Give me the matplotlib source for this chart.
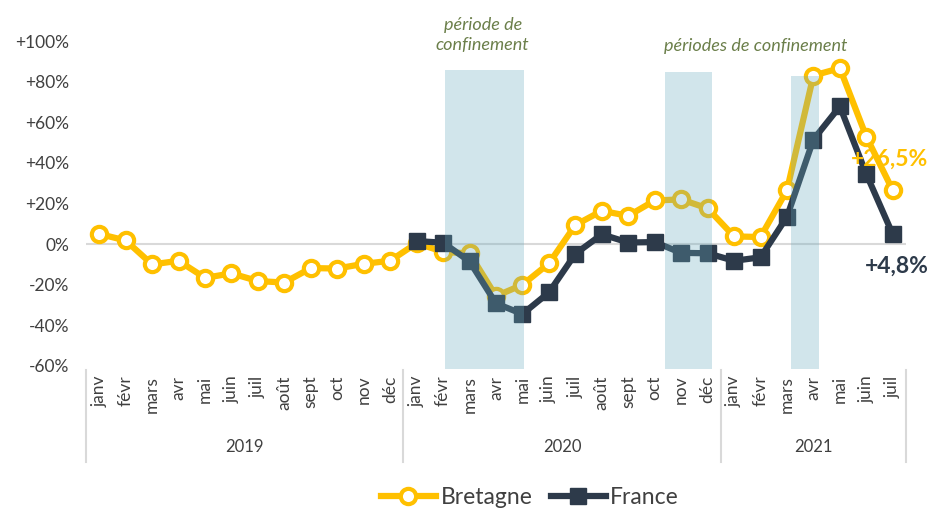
import matplotlib
matplotlib.use("Agg")
import matplotlib.pyplot as plt
from matplotlib.lines import Line2D

plt.rcParams['font.family'] = ['Lato', 'DejaVu Sans']

months = ["janv", "févr", "mars", "avr", "mai", "juin", "juil", "août", "sept", "oct", "nov", "déc"]
years = ["2019", "2020", "2021"]
month_labels = months + months + months[:7]

bretagne = [5, 1.8, -10, -8.2, -16.6, -14.4, -18.2, -18.9, -11.8, -12, -9.7, -8.2,
            0.5, -3.8, -4.6, -25.6, -20, -9.5, 9.4, 16.4, 13.9, 21.5, 22, 17.6,
            3.8, 3.5, 26.5, 83, 86.6, 52.9, 26.5]
france = [None] * 12 + [1.5, 0.7, -8.5, -29.2, -34.4, -23.8, -4.8, 4.8, 0.8, 1.0, -4.3, -4.5,
                        -8.2, -6.5, 13.4, 51.5, 67.8, 34.5, 4.8]
# lockdown bands (category index positions)
band_starts = [13.07, 21.38, 26.14]
band_ends = [16.06, 23.15, 27.2]
band_tops = [85.9, 84.9, 82.9]

YELLOW = "#FFC000"
NAVY = "#2D3A4A"
GREY = "#404040"

fig = plt.figure(figsize=(9.44, 5.12), dpi=100)
ax = fig.add_axes([86 / 944, 1 - 366 / 512, (906 - 86) / 944, (366 - 41) / 512])

x = list(range(len(bretagne)))
ax.axhline(0, color="#D9D9D9", lw=1.5, zorder=1)
ax.plot(x, bretagne, color=YELLOW, lw=4.5, marker="o", ms=11, mfc="white",
        mec=YELLOW, mew=3, zorder=3, label="Bretagne")
xf = [i for i, v in enumerate(france) if v is not None]
yf = [v for v in france if v is not None]
ax.plot(xf, yf, color=NAVY, lw=4.5, marker="s", ms=12, mfc=NAVY, mec=NAVY,
        zorder=4, label="France")

for s, e, t in zip(band_starts, band_ends, band_tops):
    ax.fill_between([s, e], [-61.5, -61.5], [t, t], color="#67AABE", alpha=0.3,
                    lw=0, zorder=5, clip_on=False)

ax.set_xlim(-0.5, 30.5)
ax.set_ylim(-60, 100)
ax.set_yticks(range(-60, 101, 20))
ax.set_yticklabels([("+" if v > 0 else "") + f"{v}%" for v in range(-60, 101, 20)],
                   fontsize=12.5, color=GREY)
ax.set_xticks(x)
ax.set_xticklabels(month_labels, rotation=90, fontsize=12.5, color=GREY, va="top")
ax.tick_params(axis="both", length=0)
ax.tick_params(axis="x", pad=7)
ax.tick_params(axis="y", pad=12)
for sp in ax.spines.values():
    sp.set_visible(False)

# year separators and labels
trans = ax.get_xaxis_transform()
for xs in [-0.5, 11.5, 23.5, 30.5]:
    ax.plot([xs, xs], [-0.012, -0.295], color="#D9D9D9", lw=1.5, transform=trans, clip_on=False)
for yr, xc in zip(years, [5.5, 17.5, 27]):
    ax.text(xc, -0.25, yr, transform=trans, ha="center", va="center", fontsize=12,
            color=GREY)

# annotations
ax.text(14.5, 103, "période de\nconfinement", ha="center", va="center", fontsize=13,
        style="italic", color="#6B7F4A", linespacing=1.25, clip_on=False)
ax.text(24.8, 97.5, "périodes de confinement", ha="center", va="center", fontsize=13,
        style="italic", color="#6B7F4A")
ax.text(31.35, 42, "+26,5%", ha="right", va="center", fontsize=16.5, fontweight="bold",
        color=YELLOW, zorder=6, clip_on=False)
ax.text(31.35, -11, "+4,8%", ha="right", va="center", fontsize=16.5, fontweight="bold",
        color=NAVY, zorder=6, clip_on=False)

handles = [Line2D([], [], color=YELLOW, lw=4.5, marker="o", ms=11, mfc="white", mec=YELLOW, mew=3),
           Line2D([], [], color=NAVY, lw=4.5, marker="s", ms=12, mfc=NAVY, mec=NAVY)]
fig.legend(handles, ["Bretagne", "France"], loc="center", bbox_to_anchor=(530 / 944, 1 - 498 / 512),
           ncol=2, frameon=False, handlelength=2.4, handletextpad=0.2,
           columnspacing=0.8, labelcolor=GREY, prop={"size": 16.5})

fig.savefig("out.png", dpi=100)
